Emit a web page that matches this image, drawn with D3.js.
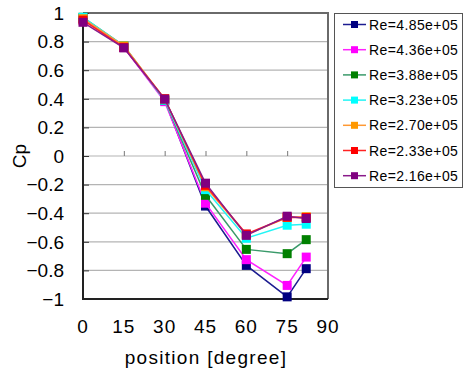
<!DOCTYPE html>
<html>
<head>
<meta charset="utf-8">
<script src="https://cdn.jsdelivr.net/npm/d3@7"></script>
<style>
  body { margin: 0; background: #fff; }
  text { font-family: "Liberation Sans", Arial, sans-serif; fill: #000; }
</style>
</head>
<body>
<svg id="chart"></svg>
<script>
// Chart data
var positions = [0, 15, 30, 45, 60, 75, 82];
var seriesNames = ["Re=4.85e+05", "Re=4.36e+05", "Re=3.88e+05", "Re=3.23e+05", "Re=2.70e+05", "Re=2.33e+05", "Re=2.16e+05"];
var re485 = [0.96, 0.76, 0.39, -0.35, -0.765, -0.985, -0.788];
var re436 = [0.96, 0.76, 0.38, -0.33, -0.725, -0.905, -0.707];
var re388 = [0.97, 0.77, 0.39, -0.275, -0.653, -0.683, -0.585];
var re323 = [0.97, 0.77, 0.39, -0.235, -0.575, -0.484, -0.477];
var re270 = [0.96, 0.77, 0.40, -0.215, -0.55, -0.43, -0.425];
var re233 = [0.95, 0.76, 0.40, -0.205, -0.545, -0.428, -0.43];
var re216 = [0.935, 0.756, 0.398, -0.19, -0.555, -0.421, -0.437];
var xTicks = [0, 15, 30, 45, 60, 75, 90];
var yTicks = [1, 0.8, 0.6, 0.4, 0.2, 0, -0.2, -0.4, -0.6, -0.8, -1];

var allValues = [re485, re436, re388, re323, re270, re233, re216];
var markerColors = ["#000080", "#ff00ff", "#008000", "#00ffff", "#ff9900", "#ff0000", "#800080"];
var lineColors = ["#1c1c90", "#ff22ff", "#3a9a6a", "#22f5f5", "#ff9933", "#ff2222", "#8a1a8a"];

var width = 465, height = 373;
var plot = { left: 83, right: 328, top: 13, bottom: 299 };

var svg = d3.select("#chart").attr("width", width).attr("height", height);

var x = d3.scaleLinear().domain([0, 90]).range([plot.left, plot.right]);
var y = d3.scaleLinear().domain([-1, 1]).range([plot.bottom, plot.top]);

// gridlines
svg.append("g")
  .selectAll("line")
  .data(yTicks.filter(d => d > -1 && d < 1))
  .enter()
  .append("line")
    .attr("x1", plot.left).attr("x2", plot.right)
    .attr("y1", d => y(d)).attr("y2", d => y(d))
    .attr("stroke", "#b4b4b4")
    .attr("stroke-width", 1.2);

// top and right frame
svg.append("path")
  .attr("d", `M${plot.left},${plot.top}H${plot.right}V${plot.bottom}`)
  .attr("fill", "none")
  .attr("stroke", "#6a6a6a")
  .attr("stroke-width", 2);

// x ticks sitting on the zero line
svg.append("g")
  .attr("transform", `translate(0,${y(0)})`)
  .call(d3.axisTop(x).tickValues(xTicks.filter(d => d > 0 && d < 90)).tickSize(5).tickFormat(""))
  .call(g => g.select(".domain").remove())
  .call(g => g.selectAll("line").attr("stroke", "#777"));

// y axis with inward ticks
svg.append("g")
  .attr("transform", `translate(${plot.left},0)`)
  .call(d3.axisRight(y).tickValues(yTicks).tickSize(6).tickFormat(""))
  .call(g => g.select(".domain").remove())
  .call(g => g.selectAll("line").attr("stroke", "#333"));

// left and bottom axis lines
svg.append("path")
  .attr("d", `M${plot.left},${plot.top}V${plot.bottom}H${plot.right}`)
  .attr("fill", "none")
  .attr("stroke", "#222")
  .attr("stroke-width", 2);

// y tick labels
svg.append("g")
  .selectAll("text")
  .data(yTicks)
  .enter()
  .append("text")
    .attr("x", 64)
    .attr("y", d => y(d))
    .attr("dy", "0.36em")
    .attr("text-anchor", "end")
    .style("font-size", "19px")
    .text(d => d3.format("")(d).replace("-", "\u2212"));

// x tick labels
svg.append("g")
  .selectAll("text")
  .data(xTicks)
  .enter()
  .append("text")
    .attr("x", d => x(d))
    .attr("y", 326)
    .attr("dy", "0.36em")
    .attr("text-anchor", "middle")
    .style("font-size", "19px")
    .style("letter-spacing", "1px")
    .text(d => d);

// axis titles
svg.append("text")
  .attr("x", 206).attr("y", 357)
  .attr("dy", "0.36em")
  .attr("text-anchor", "middle")
  .style("font-size", "19px")
  .style("letter-spacing", "1.3px")
  .text("position [degree]");

svg.append("text")
  .attr("transform", `translate(19,${y(0)}) rotate(-90)`)
  .attr("dy", "0.36em")
  .attr("text-anchor", "middle")
  .style("font-size", "19px")
  .text("Cp");

// series
var line = d3.line().x((d, i) => x(positions[i])).y(d => y(d));
var series = svg.append("g")
  .selectAll(".series")
  .data(allValues)
  .enter()
  .append("g")
    .classed("series", true);

series.append("path")
  .attr("d", d => line(d))
  .attr("fill", "none")
  .attr("stroke", (d, i) => lineColors[i])
  .attr("stroke-width", 1.5);

series.selectAll("rect")
  .data((d, i) => d.map(v => ({ v: v, s: i })))
  .enter()
  .append("rect")
    .attr("x", (d, j) => x(positions[j]) - 4.5)
    .attr("y", d => y(d.v) - 4.5)
    .attr("width", 9)
    .attr("height", 9)
    .attr("fill", d => markerColors[d.s]);

// legend
var legend = svg.append("g");
legend.append("rect")
  .attr("x", 334.5).attr("y", 13.5)
  .attr("width", 128).attr("height", 174)
  .attr("fill", "#fff")
  .attr("stroke", "#555")
  .attr("stroke-width", 1);

var items = legend.selectAll(".item")
  .data(seriesNames)
  .enter()
  .append("g")
    .classed("item", true)
    .attr("transform", (d, i) => `translate(0,${24.5 + i * 25.2})`);

items.append("line")
  .attr("x1", 343).attr("x2", 366)
  .attr("stroke", (d, i) => lineColors[i])
  .attr("stroke-width", 1.5);

items.append("rect")
  .attr("x", 351).attr("y", -3.5)
  .attr("width", 7).attr("height", 7)
  .attr("fill", (d, i) => markerColors[i]);

items.append("text")
  .attr("x", 369)
  .attr("dy", "0.36em")
  .style("font-size", "14px")
  .style("letter-spacing", "0.4px")
  .text(d => d);
</script>
</body>
</html>
